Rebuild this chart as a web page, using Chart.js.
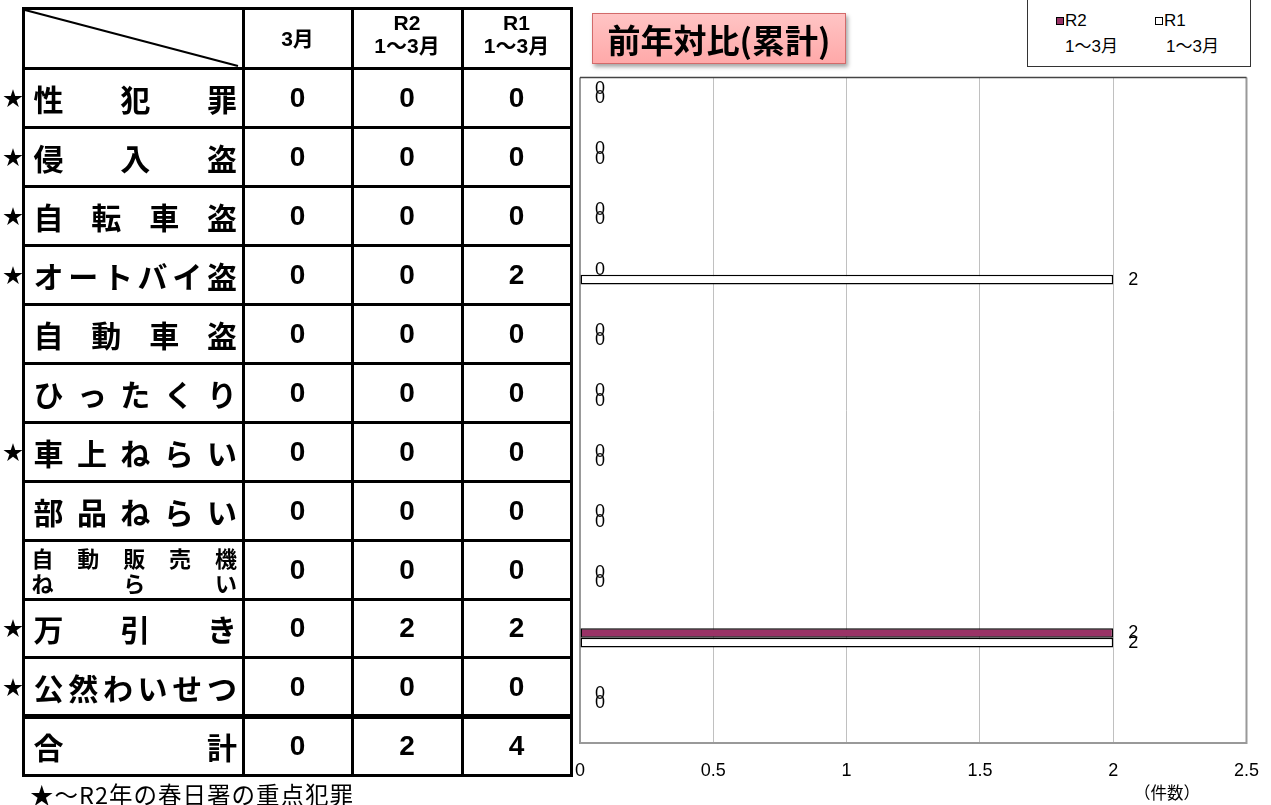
<!DOCTYPE html>
<html lang="ja">
<head>
<meta charset="utf-8">
<script src="https://cdn.jsdelivr.net/npm/chart.js@4.4.1/dist/chart.umd.min.js"></script>
<style>
  html, body { margin: 0; padding: 0; background: #fff; }
  body { width: 1271px; height: 805px; position: relative; overflow: hidden;
         font-family: "Noto Sans CJK JP", "Noto Sans", sans-serif; color: #000; }
  .abs { position: absolute; }
  .line { position: absolute; background: #000; }
  .cell { position: absolute; display: flex; align-items: center; justify-content: center; box-sizing: border-box; }
  .lbl { font-weight: 700; font-size: 30px; line-height: 1; justify-content: space-between; padding: 0 5px 0 8px; }
  .lbl2 { font-weight: 700; font-size: 22px; line-height: 25px; flex-direction: column; align-items: stretch; padding: 0 5px 0 6px; }
  .lbl2 div { display: flex; justify-content: space-between; }
  .num { font-family: "Liberation Sans", Arial, sans-serif; font-weight: 700; font-size: 28px; }
  .head { font-family: "Liberation Sans", "Noto Sans CJK JP", sans-serif; font-weight: 700; font-size: 21px;
          line-height: 23px; flex-direction: column; }
  .star { font-size: 20px; line-height: 1; }
  #title { left: 592px; top: 13px; width: 254px; height: 51px; box-sizing: border-box;
           border: 1.5px solid #d26a6a; background: linear-gradient(#ffc4c4, #ffa9a9);
           box-shadow: 2px 3px 4px rgba(0,0,0,0.35); display: flex; align-items: center; justify-content: center;
           font-size: 33px; font-weight: 700; }
  #legend { left: 1027px; top: -3px; width: 224px; height: 70px; box-sizing: border-box;
            border: 1px solid #333; background: #fff; font-family: "Liberation Sans", "Noto Sans CJK JP", sans-serif; font-size: 17px; }
  .lg { position: absolute; line-height: 18px; }
  .sw { display: inline-block; width: 6px; height: 6px; border: 1px solid #000; margin-right: 1px; vertical-align: 1px; }
  #chartWrap { left: 558px; top: 70px; width: 718px; height: 735px; }
</style>
</head>
<body>
<div id="chartWrap" class="abs"><canvas id="chart" width="718" height="735"></canvas></div>
<div id="table" class="abs" style="left:0;top:0;width:580px;height:805px;"></div>
<div id="title" class="abs">前年対比(累計)</div>
<div id="legend" class="abs">
  <div class="lg" style="left:28px;top:14px;"><span class="sw" style="background:#993366"></span>R2</div>
  <div class="lg" style="left:37px;top:40px;">1～3月</div>
  <div class="lg" style="left:127px;top:14px;"><span class="sw" style="background:#fff"></span>R1</div>
  <div class="lg" style="left:138px;top:40px;">1～3月</div>
</div>
<div class="abs" style="left:1134px;top:780px;font-size:16.5px;">（件数）</div>
<div class="abs" style="left:30px;top:777px;font-size:23.5px;letter-spacing:1px;">★～R2年の春日署の重点犯罪</div>

<script>
// data
const categories = ['性犯罪', '侵入盗', '自転車盗', 'オートバイ盗', '自動車盗', 'ひったくり',
                    '車上ねらい', '部品ねらい', '自動販売機ねらい', '万引き', '公然わいせつ'];
const starred = [true, true, true, true, false, false, true, false, false, true, true];
const march = [0, 0, 0, 0, 0, 0, 0, 0, 0, 0, 0];
const r2 = [0, 0, 0, 0, 0, 0, 0, 0, 0, 2, 0];
const r1 = [0, 0, 0, 2, 0, 0, 0, 0, 0, 2, 0];
const xTicks = [0, 0.5, 1, 1.5, 2, 2.5];
const columnHeads = [['3月'], ['R2', '1～3月'], ['R1', '1～3月']];
// empty series, only to leave room below the two bars like the original
const spacer = categories.map(() => null);

const sum = a => a.reduce((s, v) => s + v, 0);

// ---- table (html) ----
const colX = [23.5, 243, 352, 462, 571];
const rowY = [8.5, 68, 127, 186, 245, 304, 363, 422, 481, 540, 599, 657, 716, 775];
const tbl = document.getElementById('table');

function add(cls, style, html) {
  const d = document.createElement('div');
  d.className = cls;
  Object.assign(d.style, style);
  if (html !== undefined) d.innerHTML = html;
  tbl.appendChild(d);
  return d;
}
function spread(text) {
  return [...text].map(c => '<span>' + c + '</span>').join('');
}

rowY.forEach((y, i) => {
  const w = (i === 12) ? 5 : 3;
  add('line', { left: (colX[0] - 1.5) + 'px', top: (y - w / 2) + 'px', width: (colX[4] - colX[0] + 3) + 'px', height: w + 'px' });
});
colX.forEach(x => {
  add('line', { left: (x - 1.5) + 'px', top: (rowY[0] - 1.5) + 'px', width: '3px', height: (rowY[13] - rowY[0] + 3) + 'px' });
});

// diagonal in the corner
add('abs', { left: '0px', top: '0px' },
  '<svg width="250" height="70" style="position:absolute;left:0;top:0"><line x1="25" y1="10" x2="238" y2="66" stroke="#000" stroke-width="2.2"/></svg>');

columnHeads.forEach((lines, c) => {
  add('cell head', { left: colX[c + 1] + 'px', top: rowY[0] + 'px', width: (colX[c + 2] - colX[c + 1]) + 'px', height: (rowY[1] - rowY[0]) + 'px', paddingBottom: lines.length > 1 ? '8px' : '0px' },
    lines.map(l => '<div>' + l + '</div>').join(''));
});

function addRow(r, name, vals, star) {
  const top = rowY[r + 1], h = rowY[r + 2] - rowY[r + 1];
  const box = { left: (colX[0] + 2) + 'px', top: top + 'px', width: (colX[1] - colX[0] - 3) + 'px', height: h + 'px' };
  if (name.length > 6) {
    add('cell lbl2', box, '<div>' + spread(name.slice(0, 5)) + '</div><div>' + spread(name.slice(5)) + '</div>');
  } else {
    add('cell lbl', box, spread(name));
  }
  vals.forEach((v, c) => {
    add('cell num', { left: colX[c + 1] + 'px', top: top + 'px', width: (colX[c + 2] - colX[c + 1]) + 'px', height: h + 'px' }, String(v));
  });
  if (star) add('cell star', { left: '3px', top: top + 'px', width: '20px', height: h + 'px' }, '★');
}
categories.forEach((name, i) => addRow(i, name, [march[i], r2[i], r1[i]], starred[i]));
addRow(11, '合計', [sum(march), sum(r2), sum(r1)], false);

// ---- chart ----
const framePlugin = {
  id: 'frame',
  beforeDatasetsDraw(chart) {
    const { ctx, chartArea: a } = chart;
    ctx.save();
    ctx.strokeStyle = '#999';
    ctx.lineWidth = 2;
    ctx.beginPath();
    ctx.moveTo(a.left, a.top); ctx.lineTo(a.left, a.bottom);
    ctx.lineTo(a.right, a.bottom); ctx.lineTo(a.right, a.top);
    ctx.stroke();
    ctx.strokeStyle = '#444';
    ctx.lineWidth = 1.5;
    ctx.beginPath();
    ctx.moveTo(a.left, a.top); ctx.lineTo(a.right, a.top);
    ctx.stroke();
    ctx.restore();
  }
};

const valueLabels = {
  id: 'valueLabels',
  afterDatasetsDraw(chart) {
    const ctx = chart.ctx;
    ctx.save();
    ctx.font = '18px "Liberation Sans", Arial, sans-serif';
    ctx.fillStyle = '#000';
    ctx.textAlign = 'left';
    ctx.textBaseline = 'middle';
    [0, 1].forEach(di => {
      const ds = chart.data.datasets[di];
      chart.getDatasetMeta(di).data.forEach((bar, i) => {
        ctx.fillText(String(ds.data[i]), bar.x + 15, bar.y);
      });
    });
    ctx.restore();
  }
};

const spacerSet = n => ({ label: 'pad' + n, data: spacer.slice(), backgroundColor: 'rgba(0,0,0,0)', borderWidth: 0 });

new Chart(document.getElementById('chart'), {
  type: 'bar',
  data: {
    labels: categories,
    datasets: [
      { label: 'R2 1～3月', data: r2, backgroundColor: '#993366', borderColor: '#000', borderWidth: 1.5, borderSkipped: false },
      { label: 'R1 1～3月', data: r1, backgroundColor: '#fff', borderColor: '#000', borderWidth: 1.5, borderSkipped: false },
      spacerSet(1), spacerSet(2), spacerSet(3)
    ]
  },
  options: {
    indexAxis: 'y',
    responsive: false,
    animation: false,
    devicePixelRatio: 1,
    categoryPercentage: 0.794,
    barPercentage: 1,
    layout: { padding: { left: 18, top: 7.5, right: 19, bottom: 6.4 } },
    scales: {
      x: {
        min: xTicks[0],
        max: xTicks[xTicks.length - 1],
        afterBuildTicks: s => { s.ticks = xTicks.map(v => ({ value: v })); },
        ticks: { color: '#000', padding: 17, callback: v => String(v), font: { family: '"Liberation Sans", Arial, sans-serif', size: 18 } },
        grid: { color: '#c0c0c0', lineWidth: 1, drawTicks: false },
        border: { display: false }
      },
      y: { display: false }
    },
    plugins: { legend: { display: false }, tooltip: { enabled: false } }
  },
  plugins: [framePlugin, valueLabels]
});
</script>
</body>
</html>
